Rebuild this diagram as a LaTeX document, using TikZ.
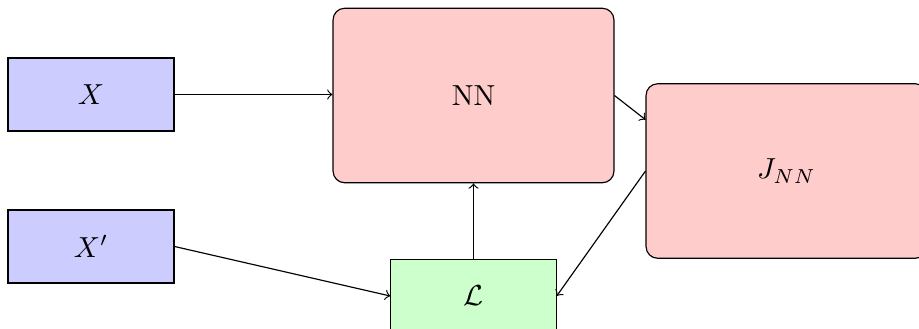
\documentclass[tikz,border=0pt]{standalone}
\begin{document}
\begin{tikzpicture}[x=0.345pt,y=-0.345pt,
  inbox/.style={draw, fill=blue!20, minimum width=57.3pt, minimum height=25.2pt, inner sep=0pt},
  nnbox/.style={draw, fill=red!20, rounded corners=4pt, minimum width=96.9pt, minimum height=60.2pt, inner sep=0pt},
  lossbox/.style={draw, fill=green!20, minimum width=57pt, minimum height=25.2pt, inner sep=0pt},
  conn/.style={->}]
\useasboundingbox (0,0) rectangle (919,328);
\clip (0,0) rectangle (919,328);
\node[inbox] (X) at (91,94.5) {$X$};
\node[inbox] (Xp) at (91,246.5) {$X'$};
\node[nnbox] (NN) at (473.5,95.5) {NN};
\node[nnbox] (J) at (786.5,171) {$J_{NN}$};
\node[lossbox] (L) at (473.5,296) {$\mathcal{L}$};
\draw[conn] (X.east) -- (NN.west |- X.east);
\draw[conn] (NN.east) -- (J.160);
\draw[conn] (L) -- (NN);
\draw[conn] (Xp.east) -- (L.west);
\draw[conn] (J.west) -- (L.east);
\end{tikzpicture}
\end{document}
